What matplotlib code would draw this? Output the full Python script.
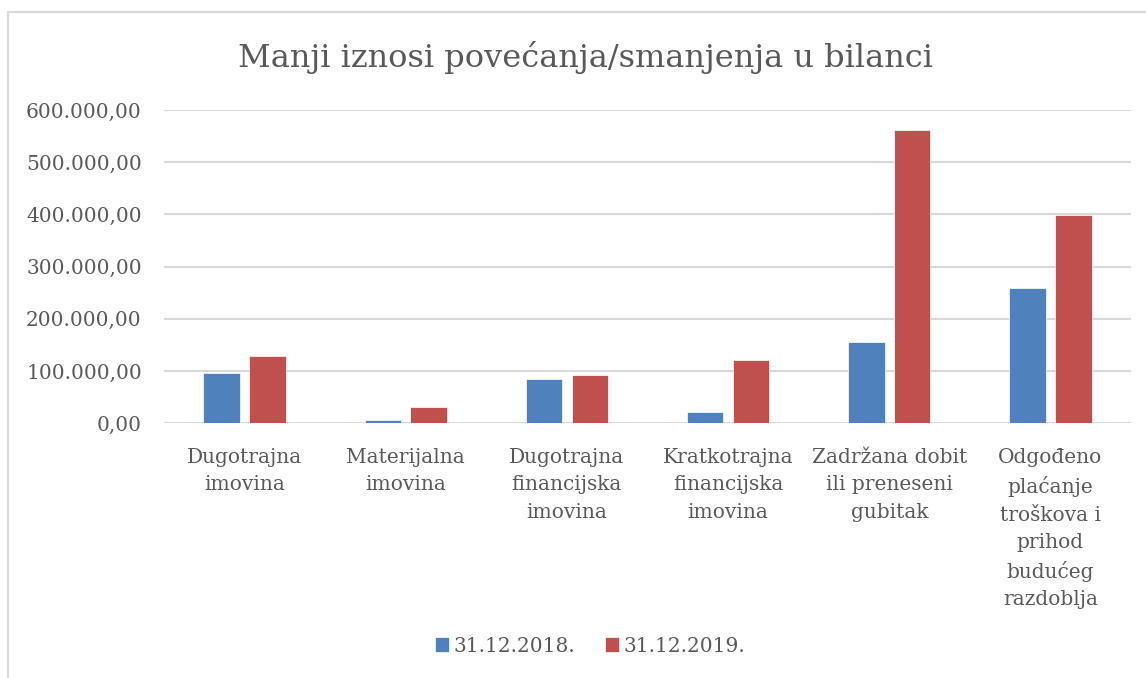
import numpy as np
from matplotlib import pyplot as plt
from matplotlib.patches import Rectangle
from matplotlib.ticker import FuncFormatter

categories = ["Dugotrajna\nimovina", "Materijalna\nimovina",
              "Dugotrajna\nfinancijska\nimovina", "Kratkotrajna\nfinancijska\nimovina",
              "Zadržana dobit\nili preneseni\ngubitak",
              "Odgođeno\nplaćanje\ntroškova i\nprihod\nbudućeg\nrazdoblja"]
series_names = ["31.12.2018.", "31.12.2019."]
vals_2018 = [97000, 5500, 84000, 21000, 155000, 260000]
vals_2019 = [128000, 31000, 92000, 121000, 561000, 398000]
y_ticks = [0, 100000, 200000, 300000, 400000, 500000, 600000]

blue = "#4F81BD"
red = "#C0504D"
txt = "#595959"
font = "DejaVu Serif"


def fmt(v, pos=None):
    s = "{:,.2f}".format(v)
    return s.replace(",", "X").replace(".", ",").replace("X", ".")


fig = plt.figure(figsize=(11.46, 6.78), dpi=100)
# okvir grafikona (vidi se samo gore i lijevo)
fig.patches.append(Rectangle((8 / 1146, -0.1), 1.2, 1 - 12 / 678 + 0.1,
                             transform=fig.transFigure, fill=False,
                             edgecolor="#D9D9D9", linewidth=1.5))

ax = fig.add_axes([164 / 1146, 1 - 423.3 / 678, (1131 - 164) / 1146, (423.3 - 110) / 678])
x = np.arange(len(categories))
w = 0.226
off = 0.142
ax.bar(x - off, vals_2018, w, color=blue, edgecolor="white", linewidth=0.5,
       label=series_names[0], zorder=3)
ax.bar(x + off, vals_2019, w, color=red, edgecolor="white", linewidth=0.5,
       label=series_names[1], zorder=3)

ax.set_xlim(-0.5, len(categories) - 0.5)
ax.set_ylim(0, 600000)
ax.set_yticks(y_ticks)
ax.yaxis.set_major_formatter(FuncFormatter(fmt))
ax.grid(axis="y", color="#D9D9D9", linewidth=1.5, zorder=0)
for s in ax.spines.values():
    s.set_visible(False)
ax.tick_params(axis="y", length=0, pad=16, labelsize=14.5, labelcolor=txt)
ax.tick_params(axis="x", length=0, pad=18, labelsize=14.5, labelcolor=txt)
ax.set_xticks(x)
ax.set_xticklabels(categories, linespacing=1.54)
for lab in ax.get_xticklabels() + ax.get_yticklabels():
    lab.set_fontfamily(font)

fig.text(585 / 1146, 1 - 58 / 678, "Manji iznosi povećanja/smanjenja u bilanci",
         ha="center", va="center", fontsize=23, color=txt, family=font)

leg = fig.legend(loc="center", bbox_to_anchor=(590 / 1146, 1 - 646 / 678), ncol=2,
                 frameon=False, prop={"family": font, "size": 14.5},
                 handlelength=0.7, handleheight=0.7, handletextpad=0.2,
                 columnspacing=1.5)
for t in leg.get_texts():
    t.set_color(txt)

fig.savefig("out.png", dpi=100)
